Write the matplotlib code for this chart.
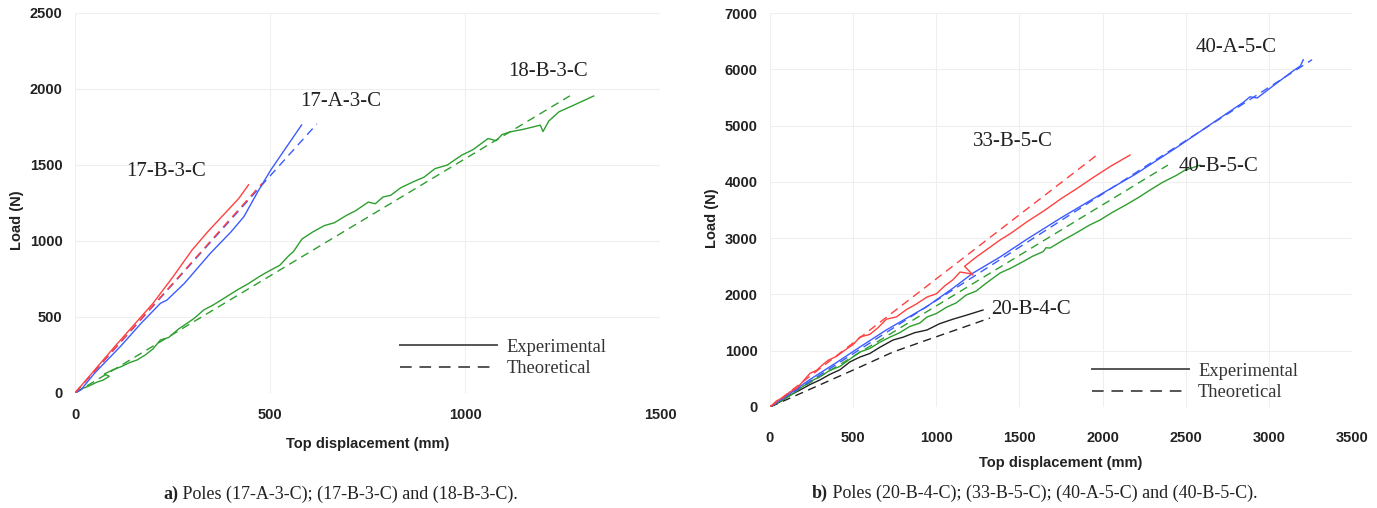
import matplotlib
matplotlib.use('Agg')
import matplotlib.pyplot as plt
from matplotlib.lines import Line2D

# ---- panel a) data (displacement mm, load N) ----
a17B_exp_x = [0, 50, 100, 150, 200, 250, 300, 340, 380, 420, 445]
a17B_exp_y = [0, 150, 300, 445, 590, 760, 940, 1060, 1170, 1280, 1370]
a17B_th_x = [0, 480]
a17B_th_y = [0, 1380]

a17A_exp_x = [0, 15, 50, 116, 170, 219, 236, 280, 347, 400, 433, 470, 502, 540, 581]
a17A_exp_y = [0, 20, 130, 305, 460, 590, 612, 720, 919, 1060, 1160, 1330, 1467, 1610, 1763]
a17A_th_x = [0, 620]
a17A_th_y = [0, 1770]

a18B_exp_x = [0, 15, 35, 55, 73, 88, 75, 95, 120, 140, 159, 180, 200, 219, 240, 265, 287,
              305, 330, 355, 380, 416, 445, 475, 502, 525, 548, 560, 582, 610, 639, 665, 695,
              720, 752, 770, 790, 809, 835, 866, 895, 923, 955, 991, 1020, 1059, 1080, 1095,
              1116, 1150, 1193, 1200, 1215, 1241, 1280, 1330]
a18B_exp_y = [0, 25, 45, 70, 86, 110, 125, 150, 175, 200, 217, 250, 290, 349, 365, 420, 458,
              490, 546, 580, 620, 678, 720, 770, 809, 840, 903, 930, 1013, 1060, 1101, 1120, 1167,
              1200, 1256, 1245, 1290, 1300, 1350, 1388, 1420, 1476, 1500, 1564, 1600, 1674, 1660, 1700,
              1718, 1735, 1762, 1720, 1790, 1850, 1895, 1954]
a18B_th_x = [0, 1269]
a18B_th_y = [0, 1955]

# ---- panel b) data ----
b33_exp_x = [0, 40, 80, 120, 160, 200, 241, 280, 320, 350, 400, 450, 500, 541, 600, 650, 700,
             760, 820, 880, 944, 1000, 1050, 1100, 1143, 1200, 1221, 1170, 1243, 1300, 1383, 1450,
             1550, 1650, 1750, 1850, 1950, 2050, 2165]
b33_exp_y = [0, 110, 170, 270, 330, 460, 600, 650, 760, 830, 900, 1010, 1110, 1243, 1290, 1410, 1560,
             1600, 1730, 1830, 1954, 2010, 2150, 2260, 2398, 2370, 2345, 2500, 2670, 2790, 2966, 3090,
             3300, 3490, 3700, 3890, 4090, 4280, 4476]
b33_th_x = [0, 1966]
b33_th_y = [0, 4476]

b40A_exp_x = [0, 120, 241, 400, 541, 700, 942, 1100, 1221, 1383, 1550, 1750, 1984, 2200, 2450,
              2688, 2850, 2886, 2930, 3050, 3150, 3190, 3207]
b40A_exp_y = [0, 240, 490, 790, 1066, 1370, 1782, 2110, 2380, 2664, 2990, 3360, 3770, 4140, 4620,
              5098, 5420, 5511, 5490, 5760, 5980, 6060, 6170]
b40A_th_x = [0, 3260]
b40A_th_y = [0, 6170]

b40B_exp_x = [0, 60, 120, 180, 241, 300, 360, 420, 480, 541, 600, 660, 720, 780, 840, 900, 944,
              1000, 1060, 1120, 1180, 1240, 1300, 1383, 1450, 1520, 1580, 1642, 1660, 1684, 1760,
              1840, 1920, 1984, 2060, 2140, 2220, 2285, 2360, 2447, 2497, 2540, 2586]
b40B_exp_y = [0, 100, 200, 330, 450, 540, 650, 720, 850, 977, 1040, 1150, 1240, 1320, 1430, 1490,
              1599, 1660, 1770, 1850, 1990, 2060, 2200, 2380, 2470, 2580, 2680, 2759, 2830, 2824,
              2960, 3090, 3230, 3321, 3460, 3590, 3730, 3854, 3990, 4120, 4210, 4250, 4298]
b40B_th_x = [0, 2393]
b40B_th_y = [0, 4298]

b20_exp_x = [0, 60, 120, 180, 241, 300, 360, 420, 480, 541, 600, 660, 740, 800, 870, 944, 1020,
             1100, 1180, 1281]
b20_exp_y = [0, 90, 210, 300, 400, 480, 580, 660, 800, 888, 950, 1060, 1190, 1240, 1320, 1368, 1480,
             1560, 1630, 1723]
b20_th_x = [0, 541, 740, 944, 1323]
b20_th_y = [0, 710, 977, 1190, 1581]

RED = '#ff4040'
BLUE = '#3b5bff'
GREEN = '#2e9e2e'
BLACK = '#222222'
DASH = (6, 4)

sans = 'Liberation Sans'
serif = 'Liberation Serif'

fig = plt.figure(figsize=(13.77, 5.08), dpi=100)
axa = fig.add_axes([75/1377, 1-393/508, 585/1377, 380/508])
axb = fig.add_axes([770/1377, 1-407/508, 582/1377, 394/508])


def style(ax, xmax, xstep, ymax, ystep, xpad):
    ax.set_xlim(0, xmax)
    ax.set_ylim(0, ymax)
    ax.set_xticks(range(0, xmax + 1, xstep))
    ax.set_yticks(range(0, ymax + 1, ystep))
    for s in ax.spines.values():
        s.set_visible(False)
    ax.grid(True, color='#efefef', lw=0.8)
    ax.set_axisbelow(True)
    ax.tick_params(length=0)
    ax.tick_params(axis='x', pad=xpad)
    ax.tick_params(axis='y', pad=9)
    for lab in ax.get_xticklabels() + ax.get_yticklabels():
        lab.set_fontfamily(sans)
        lab.set_fontweight('bold')
        lab.set_fontsize(10.5)
        lab.set_color('#222222')


def exp_th(ax, ex, ey, tx, ty, c):
    ax.plot(ex, ey, color=c, lw=1.0)
    ax.plot(tx, ty, color=c, lw=1.0, dashes=DASH)


style(axa, 1500, 500, 2500, 500, 11)
exp_th(axa, a18B_exp_x, a18B_exp_y, a18B_th_x, a18B_th_y, GREEN)
exp_th(axa, a17A_exp_x, a17A_exp_y, a17A_th_x, a17A_th_y, BLUE)
exp_th(axa, a17B_exp_x, a17B_exp_y, a17B_th_x, a17B_th_y, RED)

style(axb, 3500, 500, 7000, 1000, 17)
exp_th(axb, b20_exp_x, b20_exp_y, b20_th_x, b20_th_y, BLACK)
exp_th(axb, b40B_exp_x, b40B_exp_y, b40B_th_x, b40B_th_y, GREEN)
exp_th(axb, b40A_exp_x, b40A_exp_y, b40A_th_x, b40A_th_y, BLUE)
exp_th(axb, b33_exp_x, b33_exp_y, b33_th_x, b33_th_y, RED)

lab_kw = dict(fontfamily=serif, fontsize=15, color='#222222', ha='center', va='center')
axa.text(1212, 2118, '18-B-3-C', **lab_kw)
axa.text(682, 1921, '17-A-3-C', **lab_kw)
axa.text(234, 1454, '17-B-3-C', **lab_kw)
axb.text(2802, 6394, '40-A-5-C', **lab_kw)
axb.text(1461, 4725, '33-B-5-C', **lab_kw)
axb.text(2700, 4281, '40-B-5-C', **lab_kw)
axb.text(1569, 1741, '20-B-4-C', **lab_kw)

for ax in (axa, axb):
    ax.set_ylabel('Load (N)', fontfamily=sans, fontweight='bold', fontsize=10.5, color='#222222')
    ax.set_xlabel('Top displacement (mm)', fontfamily=sans, fontweight='bold', fontsize=10.5,
                  color='#222222')
axa.yaxis.set_label_coords(-0.088, 0.455)
axa.xaxis.set_label_coords(0.5, -0.116)
axb.yaxis.set_label_coords(-0.088, 0.48)
axb.xaxis.set_label_coords(0.5, -0.124)

handles = [Line2D([], [], color='#555555', lw=1.4),
           Line2D([], [], color='#555555', lw=1.4, dashes=DASH)]
for ax, anchor in ((axa, (0.556, 0.092)), (axb, (0.553, 0.063))):
    leg = ax.legend(handles, ['Experimental', 'Theoretical'], loc='center left',
                    bbox_to_anchor=anchor, frameon=False, borderpad=0, borderaxespad=0,
                    handlelength=5.25, handletextpad=0.5, labelspacing=0.25,
                    prop={'family': serif, 'size': 13.3})
    for t in leg.get_texts():
        t.set_color('#333333')

# captions: bold letter then normal text
ta = fig.text(163/1377, 1-494/508, 'a)', fontfamily=serif, fontweight='bold', fontsize=13,
              va='center', color='#222222')
axa.annotate(' Poles (17-A-3-C); (17-B-3-C) and (18-B-3-C).', xy=(1, 0.5), xycoords=ta,
             va='center', ha='left', fontfamily=serif, fontsize=13, color='#222222')
tb = fig.text(812/1377, 1-493/508, 'b)', fontfamily=serif, fontweight='bold', fontsize=13,
              va='center', color='#222222')
axb.annotate(' Poles (20-B-4-C); (33-B-5-C); (40-A-5-C) and (40-B-5-C).', xy=(1, 0.5),
             xycoords=tb, va='center', ha='left', fontfamily=serif, fontsize=13, color='#222222')

fig.savefig('out.png', dpi=100, facecolor='white')
